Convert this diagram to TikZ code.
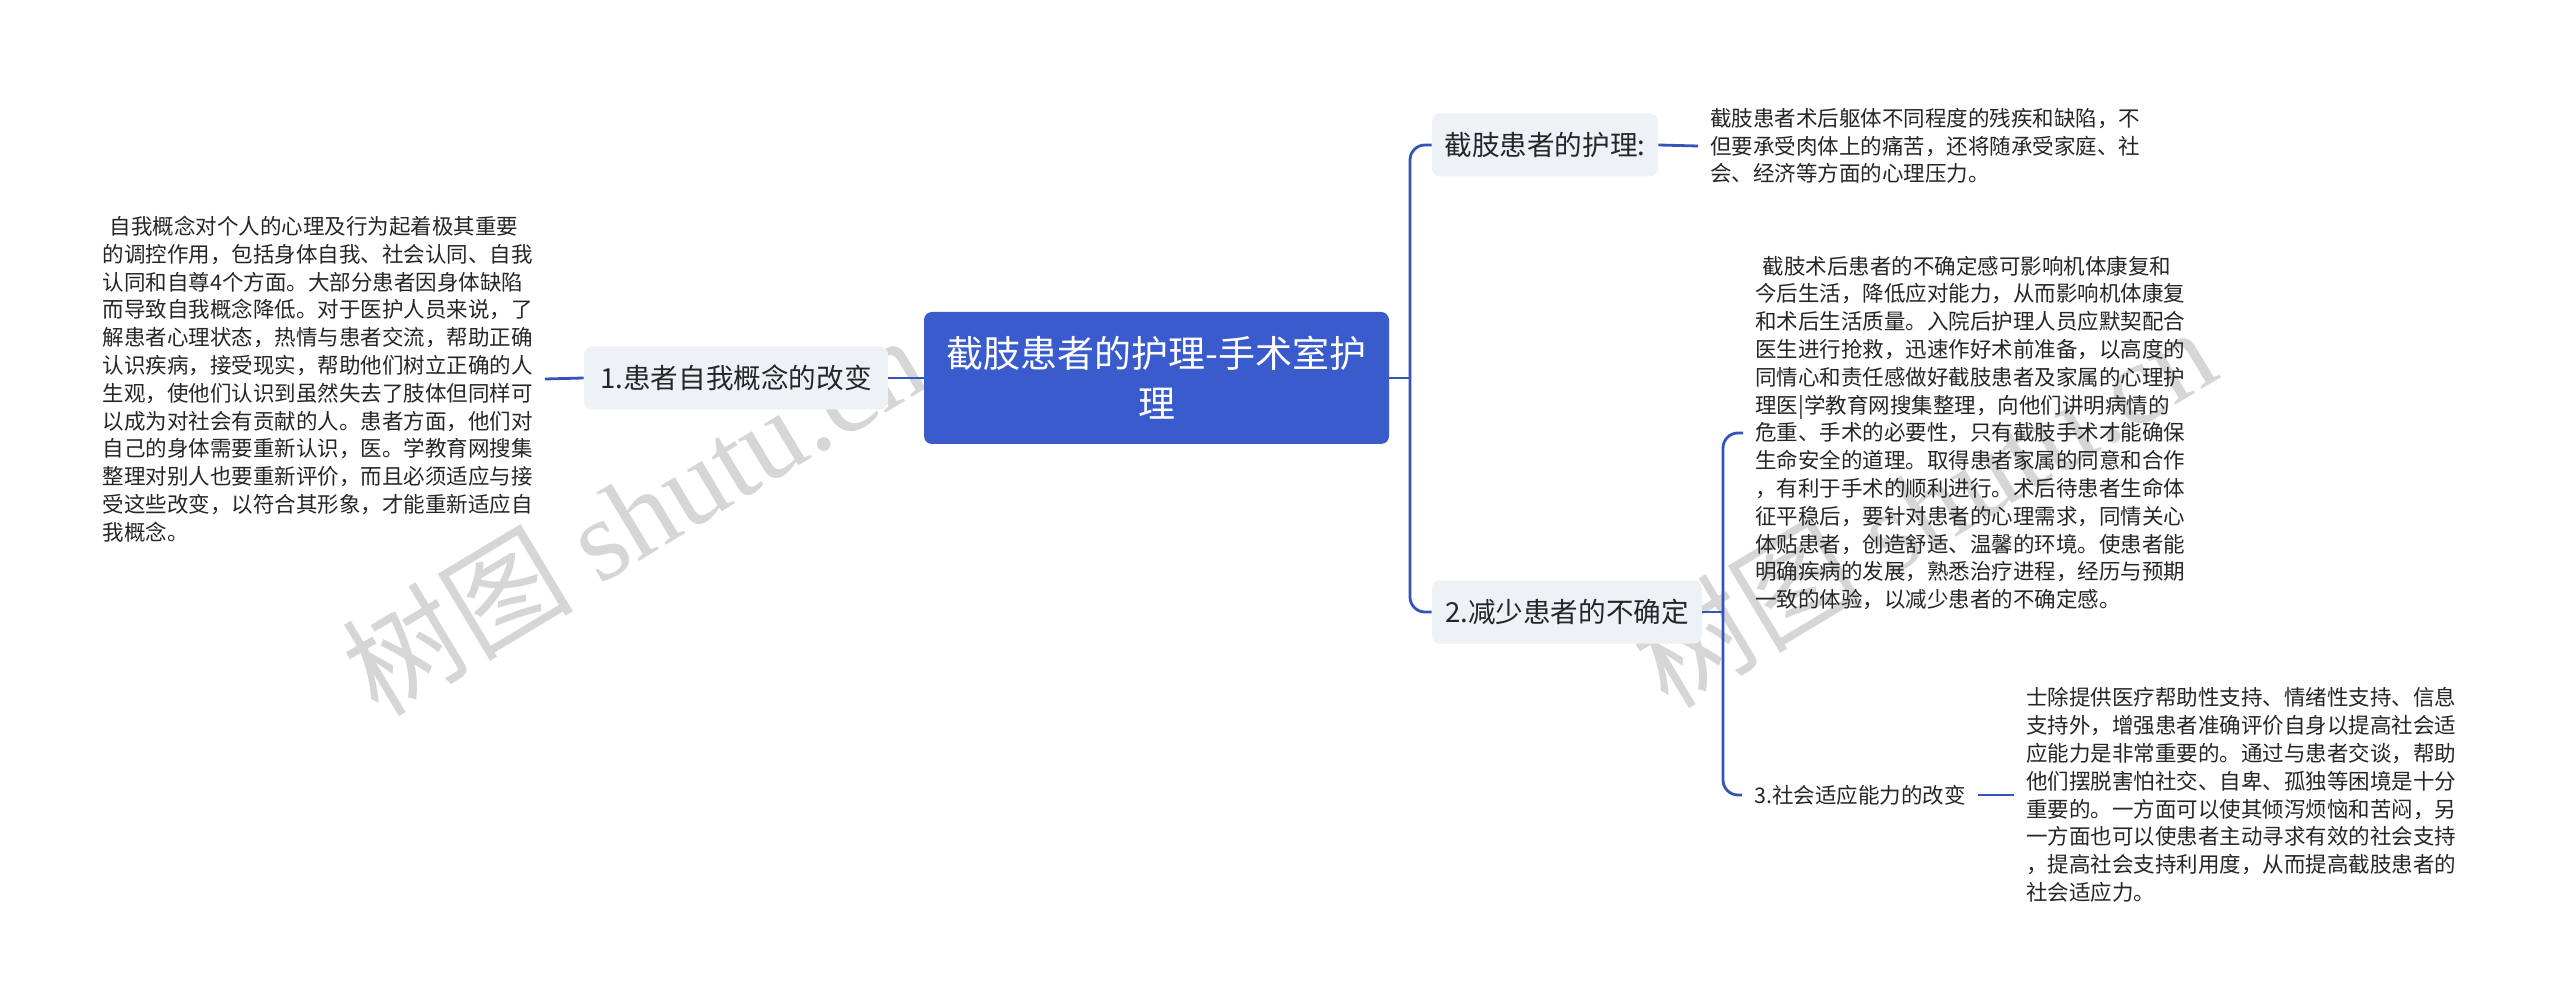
\documentclass[tikz,border=0pt]{standalone}
\usepackage{fontspec}
\setmainfont{Noto Sans CJK SC}
\newfontfamily\wmlatin{Liberation Serif}
\definecolor{rootblue}{HTML}{3A5BCB}
\definecolor{connblue}{HTML}{3454BA}
\definecolor{lightfill}{HTML}{EEF1F6}
\definecolor{textdark}{HTML}{262626}
\definecolor{wmgray}{HTML}{D6D6D6}
\begin{document}
\begin{tikzpicture}[x=0.5pt,y=-0.5pt,
  rootbox/.style={fill=rootblue, rounded corners=4pt, minimum width=232.5pt, minimum height=66pt,
    text=white, font=\fontsize{18.5pt}{25pt}\selectfont, align=center, inner sep=0pt},
  subbox/.style={fill=lightfill, rounded corners=4pt, minimum height=31.5pt, text=textdark,
    font=\fontsize{13.8pt}{16pt}\selectfont, inner sep=0pt},
  para/.style={text=textdark, font=\fontsize{10.75pt}{13.9pt}\selectfont, align=left,
    inner xsep=6pt, inner ysep=0pt},
  conn/.style={draw=connblue, line width=1.4pt, rounded corners=7.5pt},
  wm/.style={text=wmgray, font=\fontsize{58pt}{60pt}\selectfont, inner sep=0pt}]
\useasboundingbox (0,0) rectangle (2560,1005);
\fill[white] (0,0) rectangle (2560,1005);
% watermarks
\node[wm, rotate=31] (wmA) at (633,514) {树图 {\wmlatin shutu.cn}};
\node[wm, rotate=31] (wmB) at (1923,506) {树图 {\wmlatin shutu.cn}};
% nodes
\node[rootbox] (root) at (1156.5,378) {截肢患者的护理-手术室护\\理};
\node[subbox, minimum width=152pt] (n1) at (736,378) {1.患者自我概念的改变};
\node[subbox, minimum width=113pt] (top) at (1545,145) {截肢患者的护理:};
\node[subbox, minimum width=135pt] (n2) at (1567,612) {2.减少患者的不确定};
\node[para, anchor=west] (n3) at (1742,795) {3.社会适应能力的改变};
\node[para, anchor=east] (p0) at (545,379) {\hspace*{0.33em}自我概念对个人的心理及行为起着极其重要\\
的调控作用，包括身体自我、社会认同、自我\\
认同和自尊4个方面。大部分患者因身体缺陷\\
而导致自我概念降低。对于医护人员来说，了\\
解患者心理状态，热情与患者交流，帮助正确\\
认识疾病，接受现实，帮助他们树立正确的人\\
生观，使他们认识到虽然失去了肢体但同样可\\
以成为对社会有贡献的人。患者方面，他们对\\
自己的身体需要重新认识，医。学教育网搜集\\
整理对别人也要重新评价，而且必须适应与接\\
受这些改变，以符合其形象，才能重新适应自\\
我概念。};
\node[para, anchor=west] (p1) at (1698,146) {截肢患者术后躯体不同程度的残疾和缺陷，不\\
但要承受肉体上的痛苦，还将随承受家庭、社\\
会、经济等方面的心理压力。};
\node[para, anchor=west] (p2) at (1743,433) {\hspace*{0.33em}截肢术后患者的不确定感可影响机体康复和\\
今后生活，降低应对能力，从而影响机体康复\\
和术后生活质量。入院后护理人员应默契配合\\
医生进行抢救，迅速作好术前准备，以高度的\\
同情心和责任感做好截肢患者及家属的心理护\\
理医|学教育网搜集整理，向他们讲明病情的\\
危重、手术的必要性，只有截肢手术才能确保\\
生命安全的道理。取得患者家属的同意和合作\\
，有利于手术的顺利进行。术后待患者生命体\\
征平稳后，要针对患者的心理需求，同情关心\\
体贴患者，创造舒适、温馨的环境。使患者能\\
明确疾病的发展，熟悉治疗进程，经历与预期\\
一致的体验，以减少患者的不确定感。};
\node[para, anchor=west] (p3) at (2014,795) {士除提供医疗帮助性支持、情绪性支持、信息\\
支持外，增强患者准确评价自身以提高社会适\\
应能力是非常重要的。通过与患者交谈，帮助\\
他们摆脱害怕社交、自卑、孤独等困境是十分\\
重要的。一方面可以使其倾泻烦恼和苦闷，另\\
一方面也可以使患者主动寻求有效的社会支持\\
，提高社会支持利用度，从而提高截肢患者的\\
社会适应力。};
% junction coordinates
\coordinate (tr) at (1410,378);
\coordinate (st) at (1723,612);
% connectors
\draw[conn] (root.west) -- (n1.east);
\draw[conn] (n1.west) -- (p0.east);
\draw[conn] (root.east) -- (tr);
\draw[conn] (top.west) -| (tr) |- (n2.west);
\draw[conn] (top.east) -- (p1.west);
\draw[conn] (n2.east) -- (st);
\draw[conn] (p2.west) -| (st) |- (n3.west);
\draw[conn] (n3.east) -- (p3.west);
\end{tikzpicture}
\end{document}
